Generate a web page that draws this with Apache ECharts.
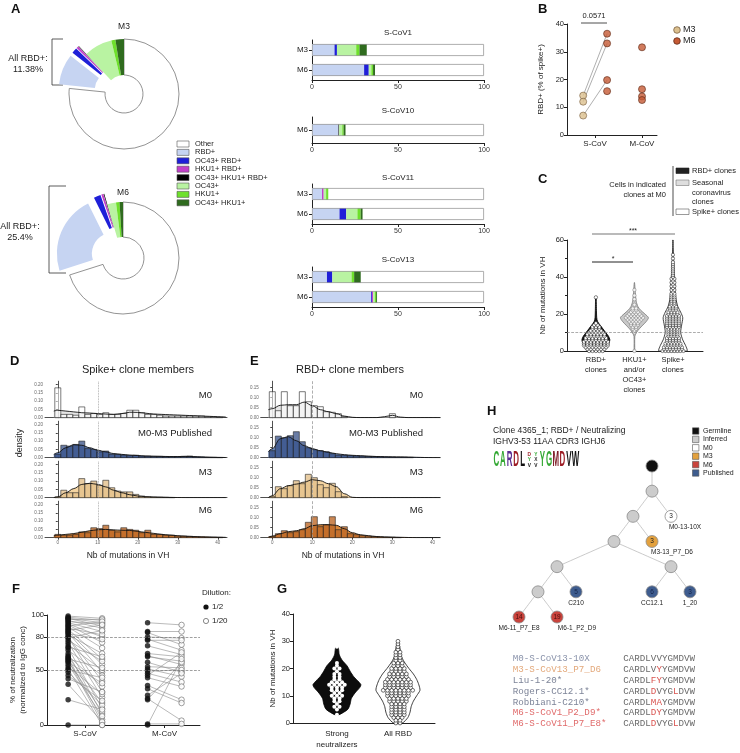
<!DOCTYPE html>
<html><head><meta charset="utf-8">
<script src="https://cdn.jsdelivr.net/npm/echarts@6/dist/echarts.min.js"></script>
<style>html,body{margin:0;padding:0;background:#fff}#c{width:740px;height:753px}</style>
</head><body><div id="c"></div>
<script>
// ================= DATA =================
// Panel A - donuts (percent of spike+ cells)
const pieCategories = ['Other','RBD+','OC43+ RBD+','HKU1+ RBD+','OC43+ HKU1+ RBD+','OC43+','HKU1+','OC43+ HKU1+'];
const pieM3 = [76.6, 9.0, 1.6, 0.6, 0.18, 8.3, 1.2, 2.5];
const pieM6 = [70.1, 22.6, 2.0, 0.6, 0.2, 2.5, 1.0, 1.0];
const rbdTotals = ['11.38%', '25.4%'];
// Panel A - stacked bars (order left to right)
const barStackOrder = ['RBD+','OC43+ RBD+','HKU1+ RBD+','OC43+ HKU1+ RBD+','OC43+','HKU1+','OC43+ HKU1+','Other'];
const barPanels = ['S-CoV1','S-CoV10','S-CoV11','S-CoV13'];
const sCoV1_M3  = [13.1, 1.4, 0,   0,   11.2, 1.9, 4.3, 68.1];
const sCoV1_M6  = [30.3, 2.7, 0,   0,   1.5,  1.0, 1.2, 63.3];
const sCoV10_M6 = [15.4, 0,   0,   0.4, 1.8,  0.8, 1.2, 80.4];
const sCoV11_M3 = [5.8,  0,   1.0, 0,   1.4,  1.4, 0,   90.4];
const sCoV11_M6 = [16.0, 3.9, 0,   0,   6.5,  1.9, 1.2, 70.5];
const sCoV13_M3 = [8.7,  3.1, 0,   0,   11.2, 1.5, 3.9, 71.6];
const sCoV13_M6 = [34.4, 0.5, 0.6, 0,   1.0,  0.8, 0.6, 62.1];
const barTicks = [0, 50, 100];
// Panel B
const bGroups = ['S-CoV', 'M-CoV'];
const bSCoV_M3 = [14.2, 12.0, 7.0];
const bSCoV_M6 = [36.5, 33.0, 19.8, 15.8];
const bMCoV_M6 = [31.6, 16.5, 13.9, 12.6];
const bPairIdx = [[0, 0], [1, 1], [2, 2]];
const bPValue = '0.0571';
// Panel C (counts of cells per number of VH mutations, index = mutations)
const cGroups = ['RBD+\nclones', 'HKU1+\nand/or\nOC43+\nclones', 'Spike+\nclones'];
const cRbdCounts = [5,6,7,8,8,8,7,7,6,6,5,4,3,3,2,1,0,0,0,0,0,0,0,0,0,0,0,0,0,1];
const cSeasonalCounts = [1,0,0,0,0,0,0,0,0,0,1,1,2,2,3,3,4,5,6,5,4,3,2,2,0,1,0,0,1,0,1,0,0,1];
const cSpikeCounts = [8,7,7,6,6,5,5,5,4,4,4,4,4,5,5,5,5,5,5,5,4,4,3,3,3,2,2,2,2,2,2,2,1,2,1,2,1,2,1,2,1,1,1,1,1,1,1,1,1,0,1,0,1];
const cViolinRbd = [[0,0.55],[2,0.8],[4,0.92],[6,1.0],[8,0.9],[10,0.7],[12,0.5],[14,0.3],[16,0.12],[18,0.06],[22,0.04],[26,0.03],[29,0.02]];
const cViolinSeasonal = [[0,0.02],[8,0.03],[10,0.15],[12,0.35],[14,0.6],[16,0.85],[18,1.0],[20,0.75],[22,0.45],[24,0.25],[27,0.12],[30,0.08],[33,0.05],[37,0.01]];
const cViolinSpike = [[0,1.0],[3,0.9],[6,0.7],[10,0.55],[14,0.62],[18,0.7],[21,0.55],[24,0.35],[28,0.22],[32,0.17],[38,0.14],[42,0.1],[48,0.06],[52,0.04],[56,0.02],[60,0.01]];
// Panels D / E - histograms (bin centres) and density curves
const histBins = [0,1.5,3,4.5,6,7.5,9,10.5,12,13.5,15,16.5,18,19.5,21,22.5,24,25.5,27,28.5,30,31.5,33,34.5,36,37.5,39,40.5];
const densX = [-1,0,2,4,6,8,10,12,14,16,18,20,22,24,26,28,30,32,34,36,38,40,42];
const rowNames = ['M0', 'M0-M3 Published', 'M3', 'M6'];
const dM0Hist  = [0.18,0.02,0.02,0.015,0.065,0.02,0.025,0.02,0.03,0.02,0.02,0.025,0.045,0.045,0.03,0.02,0.02,0.015,0.01,0.01,0.01,0.01,0.01,0.01,0.01,0.005,0.005,0.003];
const dM0Dens  = [0.04,0.045,0.04,0.035,0.03,0.028,0.025,0.022,0.02,0.025,0.033,0.032,0.027,0.022,0.02,0.018,0.016,0.014,0.012,0.01,0.008,0.006,0.004];
const dPubHist = [0.02,0.075,0.07,0.08,0.10,0.055,0.05,0.035,0.04,0.02,0.02,0.015,0.012,0.015,0.01,0.01,0.008,0.008,0.006,0.006,0.006,0.008,0.01,0.004,0.003,0.002,0.002,0.001];
const dPubDens = [0.02,0.03,0.06,0.078,0.075,0.06,0.045,0.035,0.025,0.02,0.016,0.013,0.01,0.009,0.008,0.007,0.007,0.008,0.007,0.005,0.003,0.002,0.001];
const dM3Hist  = [0.005,0.045,0.03,0.03,0.115,0.085,0.10,0.075,0.105,0.06,0.04,0.035,0.035,0.02,0.01,0.006,0.004,0.003,0.002,0.001,0,0,0,0,0,0,0,0];
const dM3Dens  = [0,0.005,0.03,0.055,0.08,0.087,0.08,0.065,0.045,0.03,0.018,0.01,0.006,0.004,0.003,0.002,0.001,0,0,0,0,0,0];
const dM6Hist  = [0.02,0.015,0.015,0.02,0.035,0.03,0.06,0.055,0.075,0.045,0.035,0.06,0.05,0.045,0.03,0.045,0.02,0.02,0.015,0.015,0.01,0.01,0.008,0.006,0.005,0.004,0.003,0.002];
const dM6Dens  = [0.012,0.015,0.02,0.025,0.033,0.042,0.048,0.05,0.047,0.045,0.044,0.038,0.032,0.026,0.02,0.016,0.012,0.009,0.007,0.005,0.004,0.003,0.002];
const eM0Hist  = [0.13,0.035,0.13,0.06,0.06,0.13,0.08,0.06,0.055,0.03,0.027,0.02,0.005,0,0,0,0,0,0,0,0.02,0,0,0,0,0,0,0];
const eM0Dens  = [0.04,0.045,0.062,0.065,0.065,0.078,0.06,0.04,0.03,0.02,0.008,0.002,0,0,0,0.005,0.012,0.003,0,0,0,0,0];
const ePubHist = [0.035,0.108,0.10,0.11,0.13,0.08,0.05,0.04,0.035,0.03,0.02,0.012,0.012,0.01,0.008,0.008,0.006,0.006,0.005,0.004,0.004,0.003,0.003,0.002,0,0,0,0];
const ePubDens = [0.03,0.045,0.095,0.105,0.085,0.06,0.045,0.035,0.027,0.02,0.015,0.012,0.01,0.008,0.006,0.005,0.004,0.004,0.003,0.002,0.001,0,0];
const eM3Hist  = [0.005,0.055,0.045,0.06,0.085,0.07,0.117,0.10,0.065,0.05,0.072,0.03,0.005,0,0,0,0,0,0,0,0,0,0,0,0,0,0,0];
const eM3Dens  = [0,0.01,0.045,0.06,0.068,0.078,0.09,0.085,0.07,0.055,0.02,0.002,0,0,0,0,0,0,0,0,0,0,0];
const eM6Hist  = [0.005,0.02,0.035,0.025,0.03,0.04,0.077,0.105,0.055,0.065,0.105,0.04,0.055,0.02,0.015,0.01,0.008,0.006,0.004,0.003,0.002,0.001,0,0,0,0,0,0];
const eM6Dens  = [0.003,0.008,0.02,0.03,0.035,0.045,0.06,0.065,0.065,0.062,0.045,0.025,0.015,0.01,0.006,0.004,0.003,0.002,0.001,0,0,0,0];
const histXTicks = [0,10,20,30,40];
// Panel F (% neutralization, paired 1/2 and 1/20 dilutions)
const fGroups = ['S-CoV', 'M-CoV'];
const fSCoVHalf = [99,98,97,97,96,95,94,93,92,91,90,89,88,87,86,85,84,83,82,80,80,79,77,75,73,71,70,68,65,63,62,61,60,59,58,57,55,53,51,50,48,45,42,37,23,0];
const fSCoVTwentieth = [97,95,93,90,96,88,92,85,80,75,94,70,82,60,91,55,48,78,65,40,30,86,58,25,50,62,15,45,10,35,20,5,52,2,12,38,8,28,0,43,18,22,30,3,14,0];
const fMCoVHalf = [93,85,84,80,78,77,72,65,63,62,57,53,51,49,47,45,43,36,33,27,24,23,1,0];
const fMCoVTwentieth = [91,85,73,79,68,77,64,62,55,58,48,52,44,50,39,66,35,23,20,47,4,57,1,60];
const fYTicks = [0, 50, 80, 100];
// Panel G
const gGroups = ['Strong\nneutralizers', 'All RBD'];
const gStrongCounts = [0,0,0,1,0,1,2,1,2,2,3,2,3,3,4,3,2,2,2,1,2,1,1,0,0,0,0,0,1];
const gAllRbdCounts = [2,2,3,4,4,4,4,4,5,5,6,6,8,7,7,7,6,5,5,4,4,3,3,2,2,2,2,1,1,1,1];
const gViolinStrong = [[3,0.08],[5,0.45],[7,0.55],[9,0.6],[11,0.75],[13,0.95],[14,1.0],[15,0.92],[17,0.7],[19,0.55],[21,0.42],[23,0.22],[25,0.1],[27,0.07],[28,0.04]];
const gViolinAll = [[0,0.2],[2,0.45],[4,0.55],[6,0.6],[8,0.7],[10,0.85],[12,1.0],[14,0.95],[16,0.85],[18,0.7],[20,0.5],[22,0.32],[24,0.18],[26,0.12],[28,0.08],[30,0.03]];
// Panel H - lineage tree
const treeTypes = ['Germline','Inferred','M0','M3','M6','Published'];
const treeData = {name:'Germline', type:'Germline', children:[
  {name:'inf1', type:'Inferred', children:[
    {name:'inf2', type:'Inferred', children:[
      {name:'inf3', type:'Inferred', children:[
        {name:'inf4', type:'Inferred', children:[
          {name:'inf6', type:'Inferred', children:[
            {name:'M6-11_P7_E8', type:'M6', count:14},
            {name:'M6-1_P2_D9', type:'M6', count:19}]},
          {name:'C210', type:'Published', count:5}]},
        {name:'inf5', type:'Inferred', children:[
          {name:'CC12.1', type:'Published', count:6},
          {name:'1_20', type:'Published', count:3}]}]},
      {name:'M3-13_P7_D6', type:'M3', count:3}]},
    {name:'M0-13-10X', type:'M0', count:3}]}]};
const treeTitle = ['Clone 4365_1; RBD+ / Neutralizing', 'IGHV3-53 11AA CDR3 IGHJ6'];
const logoColumns = [['C'],['A'],['R'],['D'],['L'],['D','Y','V'],['Y','X','V'],['Y'],['G'],['M'],['D'],['V'],['W']];
const seqNames = ['M0-S-CoV13-10X','M3-S-CoV13_P7_D6','Liu-1-20*','Rogers-CC12.1*','Robbiani-C210*','M6-S-CoV1_P2_D9*','M6-S-CoV11_P7_E8*'];
const seqs = ['CARDLVVYGMDVW','CARDLVYYGMDVW','CARDLFYYGMDVW','CARDLDVYGLDVW','CARDLMAYGMDVW','CARDLDYYGMDVW','CARDLDVYGLDVW'];

// ================= STYLE / BUILD =================
const FONT = '"Liberation Sans", Arial, Helvetica, sans-serif';
const MONO = '"Liberation Mono", "Courier New", monospace';
const catColors = {'Other':'#ffffff','RBD+':'#c6d4f2','OC43+ RBD+':'#1f1fd8','HKU1+ RBD+':'#c23fc9','OC43+ HKU1+ RBD+':'#000000','OC43+':'#b9f3a2','HKU1+':'#6ee02c','OC43+ HKU1+':'#2f6b1e'};
const treeColors = {Germline:'#111111', Inferred:'#cccccc', M0:'#ffffff', M3:'#e3a13e', M6:'#c9433c', Published:'#3e5c8e'};
const residueColors = {C:'#34a834', A:'#34a834', R:'#5a2d91', D:'#9c1c24', L:'#111', Y:'#34a834', G:'#34a834', M:'#7d1c26', V:'#111', W:'#111', X:'#333'};

const grids = [], xAxes = [], yAxes = [], series = [], graphics = [];
function addGrid(g, xa, ya) {
  const i = grids.length;
  grids.push(Object.assign({outerBoundsMode:'none', containLabel:false}, g));
  xAxes.push(Object.assign({gridIndex:i, splitLine:{show:false}}, xa));
  yAxes.push(Object.assign({gridIndex:i, splitLine:{show:false}}, ya));
  return i;
}
function txt(text, x, y, o) {
  o = o || {};
  const st = {text, font: o.font || ('8px ' + FONT), fill: o.fill || '#222',
    align: o.align || 'left', verticalAlign: o.va || 'middle', textAlign: o.align || 'left', textVerticalAlign: o.va || 'middle'};
  if (o.rich) st.rich = o.rich;
  const el = {type:'text', x, y, silent:true, style:st};
  if (o.rotation) el.rotation = o.rotation;
  if (o.scaleX) el.scaleX = o.scaleX;
  if (o.scaleY) el.scaleY = o.scaleY;
  graphics.push(el);
}
function line(pts, color, w, dash) {
  graphics.push({type:'polyline', silent:true, shape:{points:pts}, style:{stroke:color, lineWidth:w || 1, fill:null, lineDash: dash || null}});
}
function rect(x, y, w, h, fill, stroke, lw) {
  graphics.push({type:'rect', silent:true, shape:{x, y, width:w, height:h}, style:{fill, stroke: stroke || null, lineWidth: lw || 0}});
}
const axLine = {show:true, lineStyle:{color:'#222', width:1}};

// ---- Panel letters
[['A',11,9],['B',538,9],['C',538,179],['D',10,361],['E',250,361],['F',12,589],['G',277,589],['H',487,411]]
  .forEach(([t,x,y]) => txt(t, x, y, {font:'bold 13px ' + FONT, fill:'#111'}));

// ---- Panel A donuts
function pieSeries(vals, center, radius) {
  return {type:'pie', center, radius, startAngle:90, clockwise:true, selectedMode:'multiple', selectedOffset:11,
    avoidLabelOverlap:false, label:{show:false}, labelLine:{show:false}, silent:true, emphasis:{disabled:true},
    select:{itemStyle:{borderWidth:0}},
    data: pieCategories.map((n, i) => ({name:n, value:vals[i], selected: i >= 1 && i <= 4,
      itemStyle:{color:catColors[n], borderColor: n === 'Other' ? '#777' : '#fff', borderWidth: n === 'Other' ? 0.8 : 0}}))};
}
series.push(pieSeries(pieM3, [124, 94], [19, 55]));
series.push(pieSeries(pieM6, [123, 258], [21, 56]));
txt('M3', 124, 27, {align:'center', font:'8.5px ' + FONT});
txt('M6', 123, 193, {align:'center', font:'8.5px ' + FONT});
line([[63,39],[52,39],[52,85],[63,85]], '#333', 0.8);
line([[66,186],[49,186],[49,273],[66,273]], '#333', 0.8);
txt('All RBD+:', 28, 59, {align:'center', font:'9px ' + FONT});
txt(rbdTotals[0], 28, 70, {align:'center', font:'9px ' + FONT});
txt('All RBD+:', 20, 227, {align:'center', font:'9px ' + FONT});
txt(rbdTotals[1], 20, 238, {align:'center', font:'9px ' + FONT});
pieCategories.forEach((n, i) => {
  const y = 144 + 8.4 * i;
  rect(177, y - 3, 12, 6, catColors[n], '#555', 0.6);
  txt(n, 195, y, {font:'7.5px ' + FONT});
});

// ---- Panel A bars
const barVals = [{M3:sCoV1_M3, M6:sCoV1_M6}, {M6:sCoV10_M6}, {M3:sCoV11_M3, M6:sCoV11_M6}, {M3:sCoV13_M3, M6:sCoV13_M6}];
const barGeom = [{top:40,height:40},{top:117,height:26},{top:184,height:40},{top:267,height:40}];
const barTitleY = [33, 111, 178, 260];
barPanels.forEach((title, pi) => {
  const rows = Object.keys(barVals[pi]);
  const gi = addGrid({left:312, width:172, top:barGeom[pi].top, height:barGeom[pi].height},
    {type:'value', min:0, max:100, interval:50, axisLine:axLine, axisTick:{show:true, length:3, lineStyle:{color:'#222'}},
      axisLabel:{fontSize:7, color:'#333', margin:4, fontFamily:FONT}},
    {type:'category', data:rows, inverse:true, axisLine:axLine, axisTick:{show:true, alignWithLabel:true, length:3, lineStyle:{color:'#222'}},
      axisLabel:{fontSize:8, color:'#222', margin:4, fontFamily:FONT}});
  barStackOrder.forEach((cat, k) => {
    series.push({type:'bar', name:cat, xAxisIndex:gi, yAxisIndex:gi, stack:'A' + pi, barWidth:12, silent:true,
      itemStyle:{color:catColors[cat]}, data: rows.map(r => barVals[pi][r][k])});
  });
  series.push({type:'bar', xAxisIndex:gi, yAxisIndex:gi, barWidth:12, barGap:'-100%', silent:true, z:3,
    itemStyle:{color:'rgba(0,0,0,0)', borderColor:'#999', borderWidth:0.8},
    data: rows.map(r => barVals[pi][r].reduce((a, b) => a + b, 0))});
  txt(title, 398, barTitleY[pi], {align:'center', font:'8px ' + FONT});
});

// ---- Panel B
const bDodge = 0.255;
const giB = addGrid({left:567, top:24, width:90, height:111},
  {type:'value', min:0.4, max:2.32, axisLine:axLine,
    axisTick:{show:true, length:3, customValues:[1,2], lineStyle:{color:'#222'}},
    axisLabel:{customValues:[1,2], formatter:v => bGroups[Math.round(v) - 1], fontSize:8, color:'#222', margin:5, fontFamily:FONT}},
  {type:'value', min:0, max:40, interval:10, axisLine:axLine, axisTick:{show:true, length:3, lineStyle:{color:'#222'}},
    axisLabel:{fontSize:7.5, color:'#222', margin:3, fontFamily:FONT},
    name:'RBD+ (% of spike+)', nameLocation:'middle', nameGap:22, nameRotate:90, nameTextStyle:{fontSize:8, color:'#222', fontFamily:FONT}});
bPairIdx.forEach(([a, b]) => {
  series.push({type:'line', xAxisIndex:giB, yAxisIndex:giB, symbol:'none', silent:true, z:1,
    lineStyle:{color:'#9a9a9a', width:0.8}, data:[[1 - bDodge, bSCoV_M3[a]], [1 + bDodge, bSCoV_M6[b]]]});
});
const bM3Style = {color:'#dcc08e', borderColor:'#7a6040', borderWidth:0.8};
const bM6Style = {color:'#c65a34', borderColor:'#5e2a18', borderWidth:0.8};
series.push({type:'scatter', xAxisIndex:giB, yAxisIndex:giB, symbolSize:7, silent:true, z:3, itemStyle:bM3Style,
  data: bSCoV_M3.map(v => [1 - bDodge, v])});
series.push({type:'scatter', xAxisIndex:giB, yAxisIndex:giB, symbolSize:7, silent:true, z:3, itemStyle:bM6Style,
  data: bSCoV_M6.map(v => [1 + bDodge, v]).concat(bMCoV_M6.map(v => [2, v]))});
txt(bPValue, 594, 16, {align:'center', font:'7.5px ' + FONT});
line([[581,23],[607,23]], '#222', 0.8);
graphics.push({type:'circle', silent:true, shape:{cx:677, cy:30, r:3.3}, style:{fill:bM3Style.color, stroke:bM3Style.borderColor, lineWidth:0.8}});
graphics.push({type:'circle', silent:true, shape:{cx:677, cy:41, r:3.3}, style:{fill:bM6Style.color, stroke:bM6Style.borderColor, lineWidth:0.8}});
txt('M3', 683, 30, {font:'9px ' + FONT});
txt('M6', 683, 41, {font:'9px ' + FONT});

// ---- helpers for violins and swarms
function violinSeries(gi, g, profile, halfPx, fill, stroke, lw) {
  return {type:'custom', xAxisIndex:gi, yAxisIndex:gi, silent:true, z:1, data:[[g, profile[0][0]]],
    renderItem: (params, api) => {
      const right = profile.map(([y, w]) => { const p = api.coord([g, y]); return [p[0] + w * halfPx, p[1]]; });
      const left = profile.slice().reverse().map(([y, w]) => { const p = api.coord([g, y]); return [p[0] - w * halfPx, p[1]]; });
      return {type:'polygon', shape:{points:right.concat(left), smooth:0.25}, style:{fill, stroke, lineWidth:lw}};
    }};
}
function swarmData(g, counts) {
  const out = [];
  counts.forEach((n, v) => { for (let i = 0; i < n; i++) out.push([g, v, i - (n - 1) / 2]); });
  return out;
}
function swarmSeries(gi, g, counts, spacing, r, fill, stroke, lw) {
  return {type:'custom', xAxisIndex:gi, yAxisIndex:gi, silent:true, z:3, dimensions:['x','y','s'], encode:{x:0, y:1},
    data: swarmData(g, counts),
    renderItem: (params, api) => {
      const p = api.coord([api.value(0), api.value(1)]);
      return {type:'circle', shape:{cx:p[0] + api.value(2) * spacing, cy:p[1], r}, style:{fill, stroke, lineWidth:lw}};
    }};
}

// ---- Panel C
const giC = addGrid({left:567, top:240, width:136, height:111},
  {type:'value', min:0.25, max:3.78, axisLine:axLine, axisTick:{show:false},
    axisLabel:{customValues:[1,2,3], formatter:v => cGroups[Math.round(v) - 1], fontSize:7.5, lineHeight:10, color:'#222', margin:4, fontFamily:FONT, verticalAlign:'top'}},
  {type:'value', min:0, max:60, interval:20, axisLine:axLine, axisTick:{show:true, length:3, lineStyle:{color:'#222'}},
    minorTick:{show:true, splitNumber:2, length:2, lineStyle:{color:'#222'}},
    axisLabel:{fontSize:7.5, color:'#222', margin:3, fontFamily:FONT},
    name:'Nb of mutations in VH', nameLocation:'middle', nameGap:20, nameRotate:90, nameTextStyle:{fontSize:8, color:'#222', fontFamily:FONT}});
series.push(violinSeries(giC, 1, cViolinRbd, 14, '#1a1a1a', '#000', 0.8));
series.push(violinSeries(giC, 2, cViolinSeasonal, 14, '#c8c8c8', '#777', 0.8));
series.push(violinSeries(giC, 3, cViolinSpike, 14, '#ffffff', '#111', 0.8));
series.push(swarmSeries(giC, 1, cRbdCounts, 3.4, 1.7, '#ffffff', '#111', 0.5));
series.push(swarmSeries(giC, 2, cSeasonalCounts, 3.4, 1.7, '#f2f2f2', '#777', 0.5));
series.push(swarmSeries(giC, 3, cSpikeCounts, 3.0, 1.6, '#ffffff', '#111', 0.5));
series.push({type:'line', xAxisIndex:giC, yAxisIndex:giC, data:[], silent:true,
  markLine:{silent:true, symbol:'none', label:{show:false}, lineStyle:{color:'#888', type:'dashed', width:0.7}, data:[{yAxis:10}]}});
txt('***', 633, 231, {align:'center', font:'7px ' + FONT});
line([[592,234],[675,234]], '#777', 1.2);
txt('*', 613, 259, {align:'center', font:'7px ' + FONT});
line([[592,262],[633,262]], '#222', 1);
line([[673,166],[673,216]], '#888', 1.5);
txt('Cells in indicated', 666, 185, {align:'right', font:'7.5px ' + FONT});
txt('clones at M0', 666, 195, {align:'right', font:'7.5px ' + FONT});
rect(676, 168, 13, 5.5, '#222', '#222', 0.6);
txt('RBD+ clones', 692, 171, {font:'7.5px ' + FONT});
rect(676, 180, 13, 5.5, '#dedede', '#777', 0.6);
txt('Seasonal', 692, 183, {font:'7.5px ' + FONT});
txt('coronavirus', 692, 193, {font:'7.5px ' + FONT});
txt('clones', 692, 202, {font:'7.5px ' + FONT});
rect(676, 209, 13, 5.5, '#fff', '#555', 0.6);
txt('Spike+ clones', 692, 212, {font:'7.5px ' + FONT});

// ---- Panels D and E
const rowStyles = [
  {area:'#dcdcdc', areaOpacity:0.7, bar:'rgba(255,255,255,0.55)'},
  {area:'#5877b0', areaOpacity:0.9, bar:'rgba(55,80,135,0.75)'},
  {area:'#f3d29c', areaOpacity:0.95, bar:'rgba(228,192,140,0.8)'},
  {area:'#d9822f', areaOpacity:0.95, bar:'rgba(190,105,40,0.8)'}];
const dRows = [[dM0Hist,dM0Dens],[dPubHist,dPubDens],[dM3Hist,dM3Dens],[dM6Hist,dM6Dens]];
const eRows = [[eM0Hist,eM0Dens],[ePubHist,ePubDens],[eM3Hist,eM3Dens],[eM6Hist,eM6Dens]];
const binW = 1.5;
function addHistPanel(rowsData, geo) {
  rowsData.forEach(([hist, dens], ri) => {
    const last = ri === 3;
    const gi = addGrid({left:geo.left, width:geo.width, top:381.2 + 40 * ri, height:36.5},
      {type:'value', min:geo.xmin, max:geo.xmax, axisLine:{show:true, lineStyle:{color:'#222', width:0.8}},
        axisTick:{show:last, length:2, customValues:histXTicks, lineStyle:{color:'#444'}},
        axisLabel:{show:last, customValues:histXTicks, fontSize:4.5, color:'#666', margin:3, fontFamily:FONT}},
      {type:'value', min:0, max:geo.ymax, axisLine:{show:true, lineStyle:{color:'#222', width:0.8}},
        axisTick:{show:true, length:2, customValues:geo.yticks, lineStyle:{color:'#444'}},
        axisLabel:{customValues:geo.yticks, formatter:v => v.toFixed(2), fontSize:4.5, color:'#666', margin:2, fontFamily:FONT}});
    const st = rowStyles[ri];
    const densData = densX.map((x, i) => [x, dens[i]]);
    series.push({type:'line', xAxisIndex:gi, yAxisIndex:gi, data:densData, smooth:0.35, smoothMonotone:'x', symbol:'none', silent:true, z:1,
      lineStyle:{width:0}, areaStyle:{color:st.area, opacity:st.areaOpacity}});
    series.push({type:'custom', xAxisIndex:gi, yAxisIndex:gi, silent:true, z:2, data: histBins.map((b, i) => [b, hist[i]]),
      renderItem: (params, api) => {
        const x = api.value(0), h = api.value(1);
        if (!h) return null;
        const p0 = api.coord([x - binW / 2, 0]), p1 = api.coord([x + binW / 2, h]);
        return {type:'rect', shape:{x:p0[0], y:p1[1], width:p1[0] - p0[0], height:p0[1] - p1[1]}, style:{fill:st.bar, stroke:'#222', lineWidth:0.6}};
      }});
    series.push({type:'line', xAxisIndex:gi, yAxisIndex:gi, data:densData, smooth:0.35, smoothMonotone:'x', symbol:'none', silent:true, z:3,
      lineStyle:{color:'#111', width:0.9},
      markLine:{silent:true, symbol:'none', label:{show:false}, lineStyle:{color:'#9a9a9a', type:geo.dash, width:0.8}, data:[{xAxis:10}]}});
    txt(rowNames[ri], geo.labelRight, 395 + 38.5 * ri, {align:'right', font:'9.5px ' + FONT});
  });
}
addHistPanel(dRows, {left:45, width:182, xmin:-3.2, xmax:42.3, ymax:0.22, yticks:[0,0.05,0.1,0.15,0.2], dash:'dotted', labelRight:212});
addHistPanel(eRows, {left:260.7, width:179.3, xmin:-2.9, xmax:41.9, ymax:0.1825, yticks:[0,0.05,0.1,0.15], dash:'dashed', labelRight:423});
txt('Spike+ clone members', 138, 370, {align:'center', font:'11px ' + FONT});
txt('RBD+ clone members', 350, 370, {align:'center', font:'11px ' + FONT});
txt('density', 20, 443, {align:'center', font:'9px ' + FONT, rotation:Math.PI / 2});
txt('Nb of mutations in VH', 128, 556, {align:'center', font:'8.5px ' + FONT});
txt('Nb of mutations in VH', 343, 556, {align:'center', font:'8.5px ' + FONT});

// ---- Panel F
const fDodge = 0.214;
const giF = addGrid({left:47, top:615, width:153, height:110},
  {type:'value', min:0.52, max:2.446, axisLine:axLine, axisTick:{show:true, length:3, customValues:[1,2], lineStyle:{color:'#222'}},
    axisLabel:{customValues:[1,2], formatter:v => fGroups[Math.round(v) - 1], fontSize:8, color:'#222', margin:5, fontFamily:FONT}},
  {type:'value', min:0, max:100, axisLine:axLine, axisTick:{show:true, length:3, customValues:fYTicks, lineStyle:{color:'#222'}},
    axisLabel:{customValues:fYTicks, fontSize:7.5, color:'#222', margin:3, fontFamily:FONT},
    name:'% of neutralization\n(normalized to IgG conc)', nameLocation:'middle', nameGap:18, nameRotate:90,
    nameTextStyle:{fontSize:8, lineHeight:10, color:'#222', fontFamily:FONT}});
const fPairs = fSCoVHalf.map((v, i) => [1, v, fSCoVTwentieth[i]]).concat(fMCoVHalf.map((v, i) => [2, v, fMCoVTwentieth[i]]));
series.push({type:'custom', xAxisIndex:giF, yAxisIndex:giF, silent:true, z:1, data:fPairs,
  renderItem: (params, api) => {
    const g = api.value(0);
    const a = api.coord([g - fDodge, api.value(1)]), b = api.coord([g + fDodge, api.value(2)]);
    return {type:'line', shape:{x1:a[0], y1:a[1], x2:b[0], y2:b[1]}, style:{stroke:'#8c8c8c', lineWidth:0.6}};
  }});
series.push({type:'scatter', xAxisIndex:giF, yAxisIndex:giF, symbolSize:5.5, silent:true, z:3, itemStyle:{color:'#111'},
  data: fPairs.map(p => [p[0] - fDodge, p[1]])});
series.push({type:'scatter', xAxisIndex:giF, yAxisIndex:giF, symbolSize:5.5, silent:true, z:3, itemStyle:{color:'#fff', borderColor:'#555', borderWidth:0.7},
  data: fPairs.map(p => [p[0] + fDodge, p[2]])});
series.push({type:'line', xAxisIndex:giF, yAxisIndex:giF, data:[], silent:true,
  markLine:{silent:true, symbol:'none', label:{show:false}, lineStyle:{color:'#777', type:'dashed', width:0.7}, data:[{yAxis:50},{yAxis:80}]}});
txt('Dilution:', 202, 593, {font:'8px ' + FONT});
graphics.push({type:'circle', silent:true, shape:{cx:206, cy:607, r:2.6}, style:{fill:'#111'}});
graphics.push({type:'circle', silent:true, shape:{cx:206, cy:621, r:2.6}, style:{fill:'#fff', stroke:'#555', lineWidth:0.7}});
txt('1/2', 212, 607, {font:'8px ' + FONT});
txt('1/20', 212, 621, {font:'8px ' + FONT});

// ---- Panel G
const giG = addGrid({left:293, top:614, width:142, height:109},
  {type:'value', min:0.28, max:2.607, axisLine:axLine, axisTick:{show:false},
    axisLabel:{customValues:[1,2], formatter:v => gGroups[Math.round(v) - 1], fontSize:8, lineHeight:11, color:'#222', margin:5, fontFamily:FONT, verticalAlign:'top'}},
  {type:'value', min:0, max:40, interval:10, axisLine:axLine, axisTick:{show:true, length:3, lineStyle:{color:'#222'}},
    axisLabel:{fontSize:7.5, color:'#222', margin:3, fontFamily:FONT},
    name:'Nb of mutations in VH', nameLocation:'middle', nameGap:16, nameRotate:90, nameTextStyle:{fontSize:8, color:'#222', fontFamily:FONT}});
series.push(violinSeries(giG, 1, gViolinStrong, 24, '#0d0d0d', '#000', 0.8));
series.push(violinSeries(giG, 2, gViolinAll, 22, '#ffffff', '#111', 0.8));
series.push(swarmSeries(giG, 1, gStrongCounts, 5.2, 2.0, '#ffffff', null, 0));
series.push(swarmSeries(giG, 2, gAllRbdCounts, 4.2, 1.9, '#ffffff', '#111', 0.6));

// ---- Panel H
txt(treeTitle[0], 493, 431, {font:'8.5px ' + FONT});
txt(treeTitle[1], 493, 442, {font:'8.5px ' + FONT});
logoColumns.forEach((col, i) => {
  const cx = 496.3 + i * 6.6;
  if (col.length === 1) {
    txt(col[0], cx, 460, {align:'center', font:'bold 11px ' + FONT, fill:residueColors[col[0]], scaleX:0.72, scaleY:2.0});
  } else {
    col.forEach((ch, j) => txt(ch, cx, 454.5 + j * 5.3, {align:'center', font:'bold 6px ' + FONT, fill:residueColors[ch] || '#333', scaleX:0.8, scaleY:0.95}));
  }
});
treeTypes.forEach((t, i) => {
  const y = 431 + 8.4 * i;
  rect(692.5, y - 3.2, 6.4, 6.4, treeColors[t], '#555', 0.6);
  txt(t, 703, y, {font:'7px ' + FONT});
});
const nameOffsets = {'M0-13-10X':[14,0], 'M3-13_P7_D6':[20,0], 'M6-1_P2_D9':[20,0]};
function mapTree(node, forNames) {
  const out = {name:node.name, value:node.count || 0,
    itemStyle: forNames ? {color:'rgba(0,0,0,0)', borderWidth:0} : {color:treeColors[node.type], borderColor:'#8a8a8a', borderWidth:0.8},
    label: forNames
      ? {show:!!node.count, position:'bottom', distance:1.5, offset:nameOffsets[node.name] || [0,0], formatter:'{b}', fontSize:6.5, color:'#222', fontFamily:FONT}
      : {show:!!node.count, position:'inside', formatter:'{c}', fontSize:6.5, fontFamily:FONT,
          color: node.type === 'Published' ? '#15254a' : (node.type === 'M6' ? '#4a0d0d' : '#222')}};
  if (node.children) out.children = node.children.map(c => mapTree(c, forNames));
  return out;
}
const treeBox = {left:481, right:12, top:466, bottom:136};
series.push(Object.assign({type:'tree', orient:'TB', data:[mapTree(treeData, false)], symbol:'circle', symbolSize:12,
  expandAndCollapse:false, initialTreeDepth:-1, roam:false, silent:true, emphasis:{disabled:true}, z:2,
  lineStyle:{color:'#bdbdbd', width:0.8, curveness:0}, leaves:{label:{position:'inside'}}}, treeBox));
series.push(Object.assign({type:'tree', orient:'TB', data:[mapTree(treeData, true)], symbol:'circle', symbolSize:12,
  expandAndCollapse:false, initialTreeDepth:-1, roam:false, silent:true, emphasis:{disabled:true}, z:3,
  lineStyle:{color:'rgba(0,0,0,0)', width:0, curveness:0}}, treeBox));
seqNames.forEach((n, i) => {
  const y = 659 + 10.8 * i;
  const nameColor = n.startsWith('M0') ? '#8a93ab' : n.startsWith('M3') ? '#e3a87a' : n.startsWith('M6') ? '#e06a6a' : '#7d8498';
  txt(n, 512.7, y, {font:'9.2px ' + MONO, fill:nameColor});
  const ref = seqs[0];
  let rich = '';
  seqs[i].split('').forEach((ch, k) => { rich += (ch !== ref[k] ? '{r|' : '{n|') + ch + '}'; });
  txt(rich, 623.3, y, {font:'9.2px ' + MONO, fill:'#666',
    rich:{n:{fill:'#6a6a6a', font:'9.2px ' + MONO}, r:{fill:'#d9534f', font:'9.2px ' + MONO}}});
});

// ================= RENDER =================
const chart = echarts.init(document.getElementById('c'), null, {renderer:'canvas', width:740, height:753});
chart.setOption({animation:false, backgroundColor:'#ffffff', textStyle:{fontFamily:FONT},
  grid:grids, xAxis:xAxes, yAxis:yAxes, series, graphic:{elements:graphics}});
</script></body></html>
